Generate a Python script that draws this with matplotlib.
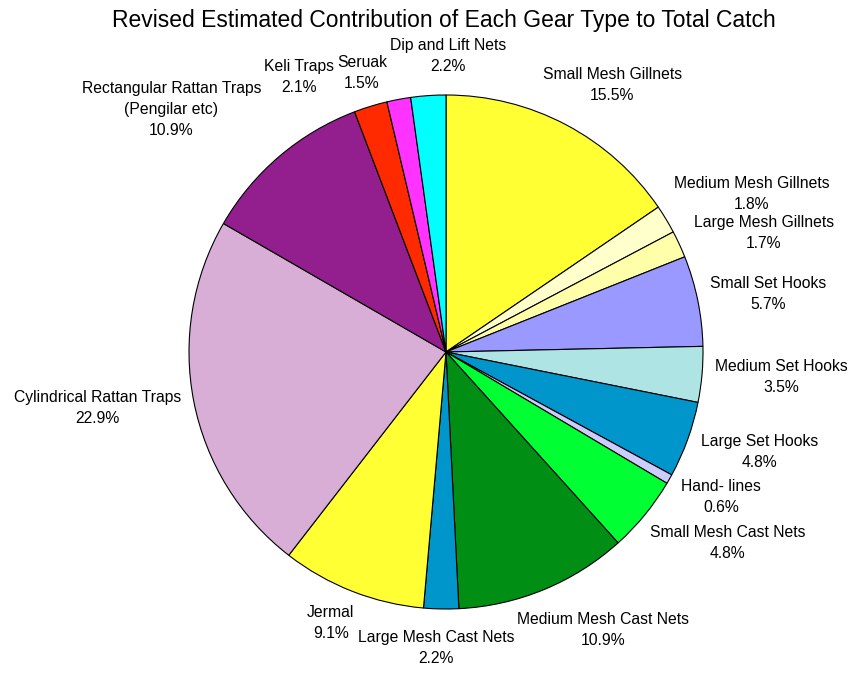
import numpy as np
import matplotlib
matplotlib.use("Agg")
import matplotlib.pyplot as plt

categories = [
    "Small Mesh Gillnets", "Medium Mesh Gillnets", "Large Mesh Gillnets",
    "Small Set Hooks", "Medium Set Hooks", "Large Set Hooks", "Hand- lines",
    "Small Mesh Cast Nets", "Medium Mesh Cast Nets", "Large Mesh Cast Nets",
    "Jermal", "Cylindrical Rattan Traps", "Rectangular Rattan Traps\n(Pengilar etc)",
    "Keli Traps", "Seruak", "Dip and Lift Nets",
]
values = [15.5, 1.8, 1.7, 5.7, 3.5, 4.8, 0.6, 4.8, 10.9, 2.2, 9.1, 22.9, 10.9, 2.1, 1.5, 2.2]
colors = [
    "#FFFF33", "#FFFFCC", "#FFFFAA", "#9999FF", "#AEE4E4", "#0096CC", "#CCCCFF",
    "#00FF33", "#008F14", "#0096CC", "#FFFF33", "#D8ADD6", "#931F8E",
    "#FF2A00", "#FF33FF", "#00FFFF",
]
title = "Revised Estimated Contribution of Each Gear Type to Total Catch"

W, H, DPI = 857, 686, 100
CX, CY, R = 446, 352, 257  # pie centre (from top-left) and radius in pixels

fig = plt.figure(figsize=(W / DPI, H / DPI), dpi=DPI)
ax = fig.add_axes([0, 0, 1, 1])
wedges, _ = ax.pie(values, colors=colors, startangle=90, counterclock=False,
                   radius=1, center=(0, 0),
                   wedgeprops=dict(edgecolor="black", linewidth=0.8))
ax.set_aspect("auto")
ax.set_xlim(-CX / R, (W - CX) / R)
ax.set_ylim(-(H - CY) / R, CY / R)
ax.axis("off")

fig.text(444 / W, 1 - 20 / H, title, ha="center", va="center",
         fontsize=16.5, family=["Liberation Sans", "DejaVu Sans"])

fig.canvas.draw()
renderer = fig.canvas.get_renderer()

# create labels, measure them
texts, sizes, pos = [], [], []
k = 1.05
for w, cat, v in zip(wedges, categories, values):
    mid = np.deg2rad((w.theta1 + w.theta2) / 2)
    ux, uy = np.cos(mid), np.sin(mid)
    t = ax.text(0, 0, f"{cat}\n{v:.1f}%", ha="center", va="center",
                multialignment="center", fontsize=11.3, linespacing=1.5,
                family=["Liberation Sans", "DejaVu Sans"])
    bb = t.get_window_extent(renderer)
    bw, bh = bb.width, bb.height
    texts.append(t)
    sizes.append((bw, bh))
    # pixel coords, y up, relative to pie centre
    pos.append([k * R * ux + bw / 2 * ux, k * R * uy + bh / 2 * uy])

pos = np.array(pos, dtype=float)
sizes = np.array(sizes)
pad = 3.0
gap = 0.04 * R
top_lim = CY - 38          # below the title
bot_lim = -(H - CY) + 2
left_lim, right_lim = -CX + 2, W - CX - 2
for _ in range(400):
    moved = False
    n = len(pos)
    for i in range(n):
        for j in range(i + 1, n):
            ox = (sizes[i, 0] + sizes[j, 0]) / 2 + pad - abs(pos[i, 0] - pos[j, 0])
            oy = (sizes[i, 1] + sizes[j, 1]) / 2 + pad - abs(pos[i, 1] - pos[j, 1])
            if ox > 0 and oy > 0:
                moved = True
                if ox < oy:
                    s = np.sign(pos[i, 0] - pos[j, 0]) or 1.0
                    pos[i, 0] += s * ox / 2
                    pos[j, 0] -= s * ox / 2
                else:
                    s = np.sign(pos[i, 1] - pos[j, 1]) or 1.0
                    pos[i, 1] += s * oy / 2
                    pos[j, 1] -= s * oy / 2
    for i in range(len(pos)):
        hw, hh = sizes[i] / 2
        # keep inside the figure, below the title
        pos[i, 1] = min(pos[i, 1], top_lim - hh)
        pos[i, 1] = max(pos[i, 1], bot_lim + hh)
        pos[i, 0] = min(max(pos[i, 0], left_lim + hw), right_lim - hw)
        # keep boxes off the pie
        nx = np.clip(0, pos[i, 0] - hw, pos[i, 0] + hw)
        ny = np.clip(0, pos[i, 1] - hh, pos[i, 1] + hh)
        d = np.hypot(nx, ny)
        if d < R + gap - 0.5:
            c = np.hypot(*pos[i])
            if ny != 0 and abs(pos[i, 1]) + hh > top_lim - 1:
                # blocked vertically: slide sideways
                pos[i, 0] += np.sign(pos[i, 0]) * (R + gap - d)
            else:
                pos[i] += pos[i] / c * (R + gap - d)
            moved = True
    if not moved:
        break

for t, p in zip(texts, pos):
    t.set_position((p[0] / R, p[1] / R))

fig.savefig("out.png", dpi=DPI)
